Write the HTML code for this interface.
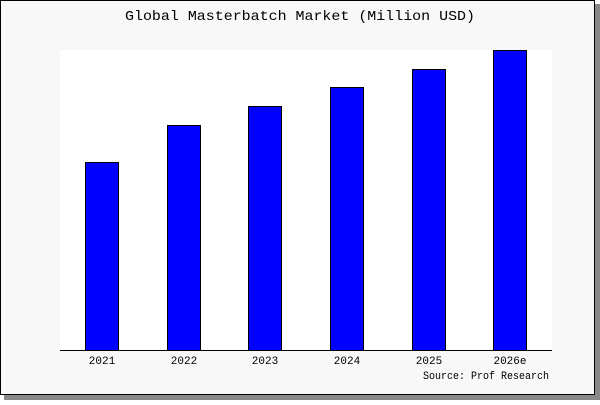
<!DOCTYPE html>
<html><head><style>
body{margin:0;width:600px;height:400px;background:#fff;overflow:hidden}
</style></head><body>
<svg width="600" height="400" xmlns="http://www.w3.org/2000/svg" font-family="Liberation Mono, DejaVu Sans Mono, monospace">
<rect x="4" y="4" width="596" height="396" fill="#888"/>
<rect x="0.5" y="0.5" width="594" height="394" fill="#f8f8f8" stroke="#000"/>
<rect x="60" y="50" width="492" height="300" fill="#fff"/>
<text x="125" y="20" font-size="14" textLength="350" lengthAdjust="spacingAndGlyphs">Global Masterbatch Market (Million USD)</text>
<g fill="#0000ff" stroke="#000" stroke-width="1">
<rect x="85.5" y="162.5" width="33" height="188"/>
<rect x="167.5" y="125.5" width="33" height="225"/>
<rect x="248.5" y="106.5" width="33" height="244"/>
<rect x="330.5" y="87.5" width="33" height="263"/>
<rect x="412.5" y="69.5" width="33" height="281"/>
<rect x="493.5" y="50.5" width="33" height="300"/>
</g>
<line x1="60" y1="350.5" x2="552" y2="350.5" stroke="#000"/>
<g font-size="11" text-anchor="middle">
<text x="102" y="364">2021</text>
<text x="184" y="364">2022</text>
<text x="265" y="364">2023</text>
<text x="347" y="364">2024</text>
<text x="429" y="364">2025</text>
<text x="510" y="364">2026e</text>
</g>
<text x="423" y="379" font-size="11" textLength="126" lengthAdjust="spacingAndGlyphs">Source: Prof Research</text>
</svg>
</body></html>
